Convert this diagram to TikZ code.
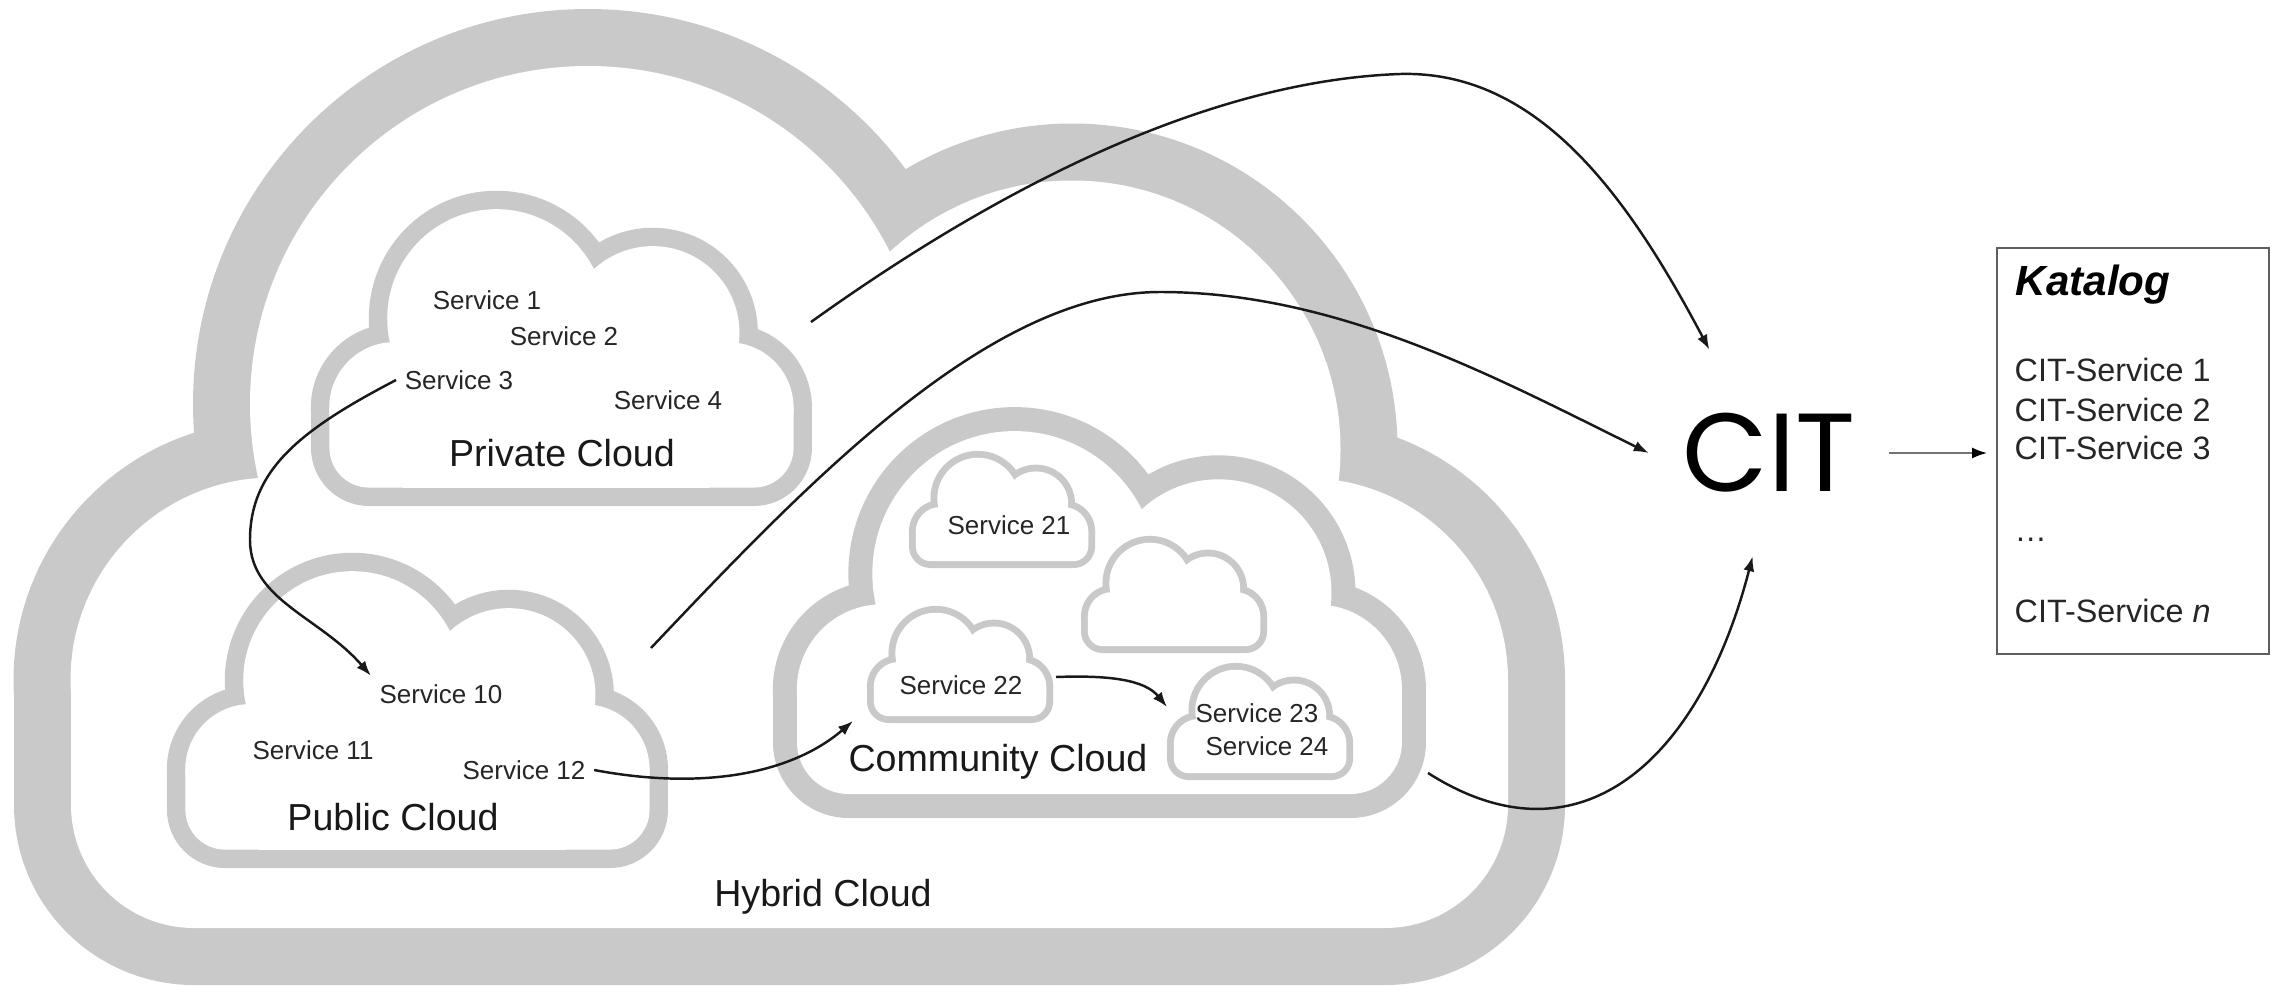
\documentclass[tikz,border=0pt]{standalone}
\usepackage{fontspec}
\setmainfont{Liberation Sans}
\newfontfamily\citfont{Poppins}
\usepackage{tikz}
\usetikzlibrary{arrows.meta, positioning}
\definecolor{cloudgray}{RGB}{201,201,201}
\definecolor{boxgray}{RGB}{95,95,95}

% one cloud icon, #1 = lower left corner, #2 = scale
\newcommand{\cloudicon}[2]{%
  \begin{scope}[shift={#1}, scale=#2]
    \fill[cloudgray] (2.59,3.05) circle (2.595) (5.74,5.81) circle (3.95)
      (10.58,5.36) circle (3.255) (12.92,3.05) circle (2.59);
    \fill[cloudgray] (0,3.05) -- (0,1.8) arc (180:270:1.8) -- (13.71,0)
      arc (270:360:1.8) -- (15.51,3.05) -- cycle;
    \fill[cloudgray] (2.86,0) rectangle (12.36,4.85);
    \fill[white] (2.59,3.05) circle (2.025) (5.74,5.81) circle (3.38)
      (10.58,5.36) circle (2.685) (12.92,3.05) circle (2.02);
    \fill[white] (0.57,3.05) -- (0.57,1.8) arc (180:270:1.23) -- (13.71,0.57)
      arc (270:360:1.23) -- (14.94,3.05) -- cycle;
    \fill[white] (2.86,0.57) rectangle (12.36,4.85);
  \end{scope}}

\tikzset{
  svc/.style={font=\fontsize{7.4}{9}\selectfont, text=black!85, inner sep=0.08cm},
  cloudlabel/.style={font=\fontsize{10.7}{13}\selectfont, text=black!90},
  catitem/.style={font=\fontsize{9.2}{11}\selectfont, text=black!85, anchor=base west, inner sep=0pt},
  flow/.style={-{Latex[length=1.5mm,width=1.1mm]}, line width=0.7pt, black!90}
}

\begin{document}
\begin{tikzpicture}
    \useasboundingbox (0,0) rectangle (22.71,9.86);

    % clouds, outer first
    \cloudicon{(0.14,0.01)}{1}
    \cloudicon{(3.11,4.80)}{0.323}
    \cloudicon{(1.67,1.18)}{0.323}
    \cloudicon{(7.73,1.68)}{0.421}
    \cloudicon{(9.09,4.18)}{0.12}
    \cloudicon{(10.81,3.33)}{0.12}
    \cloudicon{(8.67,2.63)}{0.12}
    \cloudicon{(11.67,2.06)}{0.12}

    % cloud names
    \node[cloudlabel] (hybrid) at (8.23,0.89) {Hybrid Cloud};
    \node[cloudlabel] (private) at (5.62,5.33) {Private Cloud};
    \node[cloudlabel] (public) at (3.93,1.69) {Public Cloud};
    \node[cloudlabel] (community) at (9.98,2.24) {Community Cloud};

    % services
    \node[svc] (s1) at (4.87,6.86) {Service 1};
    \node[svc] (s2) at (5.64,6.50) {Service 2};
    \node[svc] (s3) at (4.59,6.06) {Service 3};
    \node[svc] (s4) at (6.68,5.86) {Service 4};
    \node[svc] (s10) at (4.41,2.92) {Service 10};
    \node[svc] (s11) at (3.13,2.36) {Service 11};
    \node[svc] (s12) at (5.24,2.16) {Service 12};
    \node[svc] (s21) at (10.09,4.61) {Service 21};
    \node[svc] (s22) at (9.61,3.01) {Service 22};
    \node[svc] (s23) at (12.57,2.73) {Service 23};
    \node[svc] (s24) at (12.67,2.40) {Service 24};

    % broker and catalogue
    \node[font=\citfont\fontsize{31.6}{36}\selectfont, inner xsep=0.33cm, inner ysep=0.63cm] (cit) at (17.69,5.33) {CIT};
    \node[draw=boxgray, line width=0.6pt, minimum width=2.72cm, minimum height=4.06cm,
          inner sep=0pt, anchor=north west] (katalog) at (19.96,7.39) {};
    \node[font=\fontsize{12}{14}\selectfont\bfseries\itshape, anchor=base west, inner sep=0pt] (kattitle) at (20.15,6.91) {Katalog};
    \foreach \i/\y in {1/6.05, 2/5.65, 3/5.27}
        \node[catitem] (cs\i) at (20.14,\y) {CIT-Service \i};
    \node[catitem] (csdots) at (20.14,4.45) {\dots};
    \node[catitem] (csn) at (20.14,3.64) {CIT-Service \textit{n}};

    % free ends on the cloud borders
    \coordinate (privout) at (8.11,6.64);
    \coordinate (pubout) at (6.51,3.38);
    \coordinate (comout) at (14.28,2.13);
    \coordinate (c22in) at (8.53,2.65);
    \coordinate (c22out) at (10.56,3.09);
    \coordinate (c23in) at (11.67,2.79);

    % connectors
    \draw[flow] (privout) .. controls (10.30,8.21) and (12.30,9.06) .. (14.00,9.12)
        .. controls (15.40,9.16) and (16.30,7.86) .. (cit.120);
    \draw[flow] (pubout) .. controls (8.10,5.06) and (9.90,6.94) .. (11.60,6.94)
        .. controls (13.40,6.94) and (15.00,6.06) .. (cit.west);
    \draw[flow] (comout) .. controls (15.80,1.16) and (17.00,2.26) .. (cit.261);
    \draw[flow] (s3.west) .. controls (3.00,5.56) and (2.50,5.16) .. (2.50,4.46)
        .. controls (2.50,3.86) and (3.20,3.69) .. (s10.north west);
    \draw[flow] (s12.east) .. controls (7.00,1.96) and (7.90,2.11) .. (c22in);
    \draw[flow] (c22out) .. controls (11.10,3.11) and (11.45,3.06) .. (c23in);
    \draw[-{Latex[length=1.5mm,width=1.1mm,color=black]}, black!55, line width=0.45pt,
          shorten >=0.9mm] (cit.east) -- (cit.east -| katalog.west);
\end{tikzpicture}
\end{document}
